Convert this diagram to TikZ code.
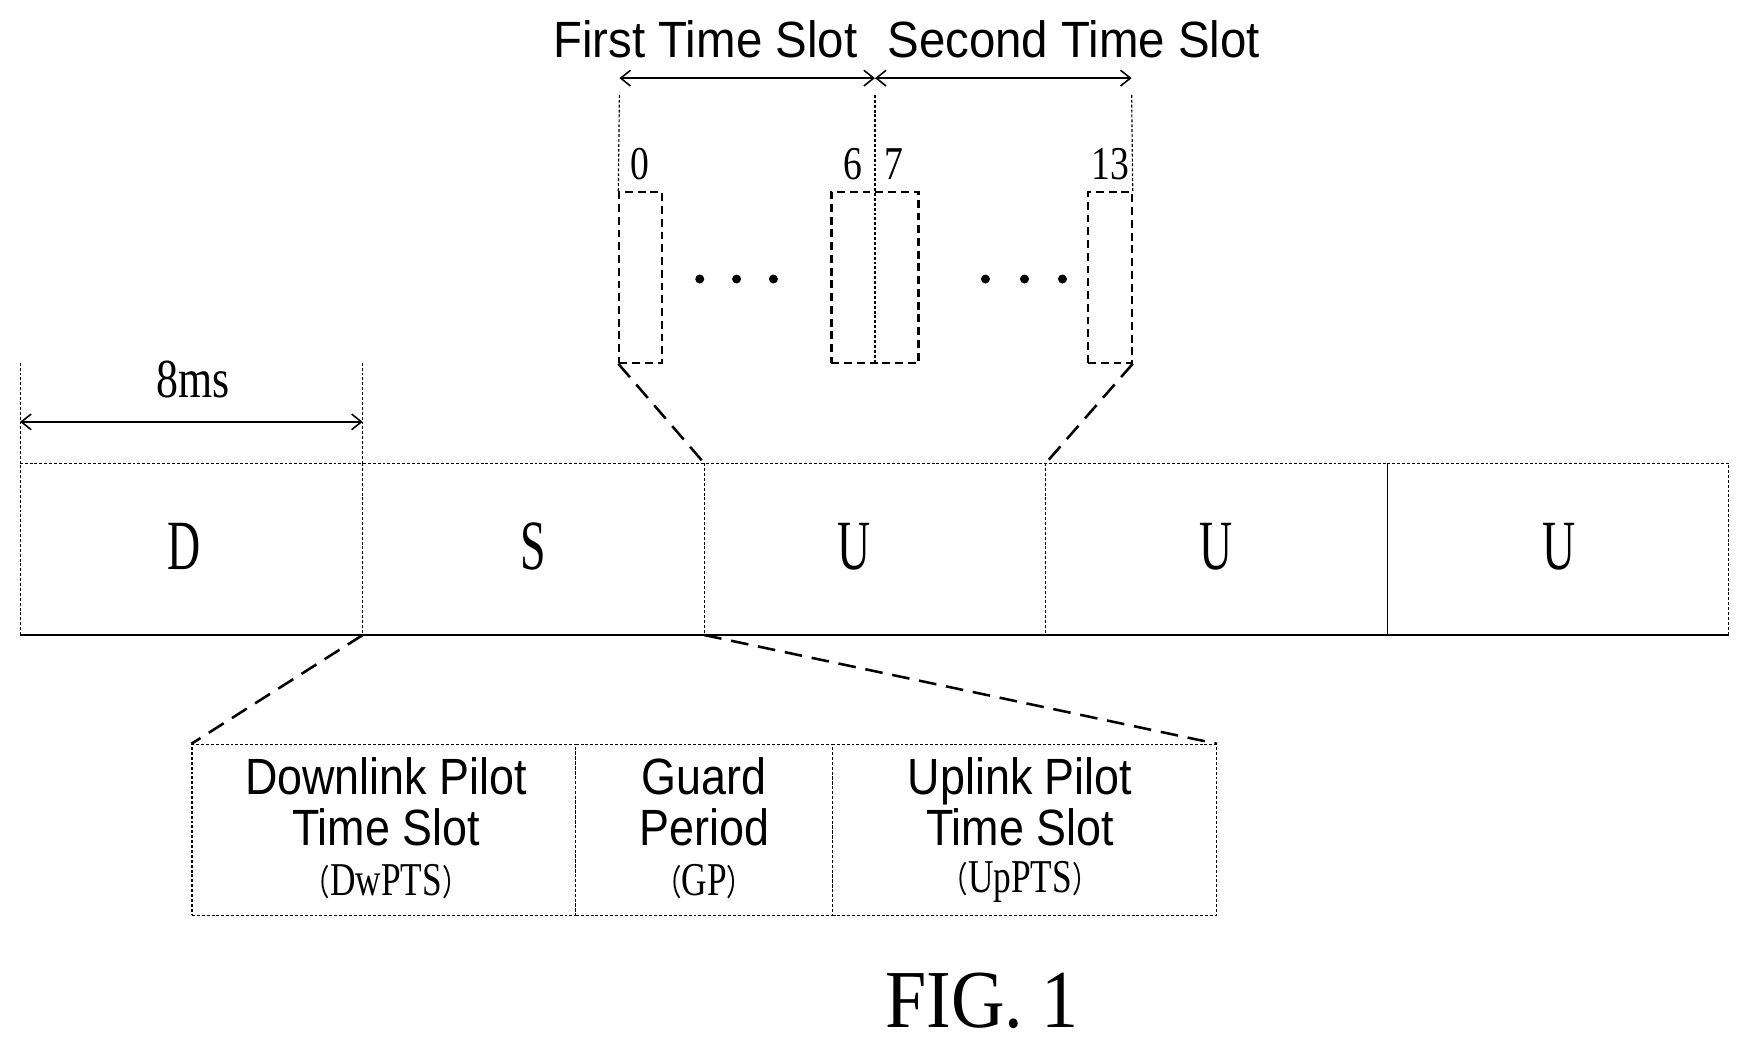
\documentclass[tikz,border=0pt]{standalone}
\usepackage{fontspec}
\setmainfont{Liberation Serif}
\newfontfamily\arialf{Liberation Sans}
\newfontfamily\cjk{Noto Sans CJK SC}
\usetikzlibrary{arrows.meta}
\newcommand{\nar}[2][0.8]{\scalebox{#1}[1]{#2}}
\newcommand{\lp}{{\cjk\fontsize{18}{18}\selectfont （}}
\newcommand{\rp}{{\cjk\fontsize{18}{18}\selectfont ）}}
\begin{document}
\begin{tikzpicture}[x=0.02cm,y=-0.02cm,
  thn/.style={line width=0.6pt},
  dotl/.style={line width=0.6pt,dash pattern=on 1.5pt off 1pt},
  dsh/.style={line width=1.1pt,dash pattern=on 4pt off 2.5pt},
  dashl/.style={line width=1.3pt,dash pattern=on 9pt off 5pt},
  dim/.style={line width=0.8pt,{Straight Barb[length=5pt,width=8pt]}-{Straight Barb[length=5pt,width=8pt]}},
  big/.style={font=\fontsize{36}{36}\selectfont},
  sans/.style={font=\arialf\fontsize{26}{30}\selectfont,align=center},
  num/.style={font=\fontsize{24}{24}\selectfont}]
\useasboundingbox (0,0) rectangle (1560,938);
% main frame
\coordinate (f0t) at (18,415); \coordinate (f0b) at (18,569);
\coordinate (f1t) at (325,415); \coordinate (f1b) at (325,569);
\coordinate (f2t) at (631,415); \coordinate (f2b) at (631,569);
\coordinate (f3t) at (937,415); \coordinate (f3b) at (937,569);
\coordinate (f4t) at (1243,415); \coordinate (f4b) at (1243,569);
\coordinate (f5t) at (1549,415); \coordinate (f5b) at (1549,569);
\draw[dotl] (f0b) -- (f0t) -- (f5t) -- (f5b);
\draw[thn] (f0b) -- (f5b);
\draw[dotl] (f1t) -- (f1b); \draw[dotl] (f2t) -- (f2b); \draw[dotl] (f3t) -- (f3b);
\draw[thn] (f4t) -- (f4b);
\node[big] (D) at (165,490) {\nar[0.65]{D}};
\node[big] (S) at (478,490) {\nar[0.65]{S}};
\node[big] (U1) at (765,490) {\nar[0.65]{U}};
\node[big] (U2) at (1090,490) {\nar[0.65]{U}};
\node[big] (U3) at (1397,490) {\nar[0.65]{U}};
% 8ms
\coordinate (m0) at (18,325); \coordinate (m1) at (325,325);
\draw[dotl] (m0) -- (f0t); \draw[dotl] (m1) -- (f1t);
\coordinate (a0) at (18,378); \coordinate (a1) at (325,378);
\draw[dim] (a0) -- (a1);
\node[num,font=\fontsize{28}{28}\selectfont] (ms) at (173,340) {\nar[0.8]{8ms}};
% top slots
\node[dsh,draw,minimum width=38*0.02cm,minimum height=153*0.02cm,inner sep=0] (s0) at (574,248.5) {};
\node[dsh,draw,minimum width=78*0.02cm,minimum height=153*0.02cm,inner sep=0] (s67) at (784,248.5) {};
\node[dsh,draw,minimum width=39*0.02cm,minimum height=153*0.02cm,inner sep=0] (s13) at (994.5,248.5) {};
\coordinate (v0) at (555,85); \coordinate (v1) at (784,85); \coordinate (v2) at (1014,85);
\draw[dotl] (v0) -- (s0.north west);
\draw[dotl] (v1) -- (s67.south);
\draw[dotl] (v2) -- (s13.north east);
\coordinate (t0) at (555,70); \coordinate (t1) at (784,70); \coordinate (t2) at (1014,70);
\draw[dim] (t0) -- (t1); \draw[dim] (t1) -- (t2);
\node[sans] (fts) at (632,35) {\nar[0.93]{First Time Slot}};
\node[sans] (sts) at (962,35) {\nar[0.93]{Second Time Slot}};
\node[num] (n0) at (573,147) {\nar[0.8]{0}};
\node[num] (n6) at (764,147) {\nar[0.8]{6}};
\node[num] (n7) at (801,147) {\nar[0.8]{7}};
\node[num] (n13) at (995,147) {\nar[0.8]{13}};
\foreach \x in {627,660,693,883,918,952} \fill (\x,250) circle (2.3pt);
\draw[dashl] (s0.south west) -- (f2t);
\draw[dashl] (s13.south east) -- (f3t);
% bottom boxes
\node[dotl,draw,minimum width=344*0.02cm,minimum height=153*0.02cm,inner sep=0] (b1) at (344,743.5) {};
\node[dotl,draw,minimum width=230*0.02cm,minimum height=153*0.02cm,inner sep=0] (b2) at (631,743.5) {};
\node[dotl,draw,minimum width=344*0.02cm,minimum height=153*0.02cm,inner sep=0] (b3) at (918,743.5) {};
\node[sans] (t1a) at (346,718) {\nar[0.88]{Downlink Pilot}\\[-4pt]\nar[0.88]{Time Slot}};
\node[sans] (t2a) at (631,718) {\nar[0.88]{Guard}\\[-4pt]\nar[0.88]{Period}};
\node[sans] (t3a) at (914,718) {\nar[0.88]{Uplink Pilot}\\[-4pt]\nar[0.88]{Time Slot}};
\node[num] (t1b) at (346,790) {\nar[0.75]{\lp DwPTS\rp}};
\node[num] (t2b) at (631,790) {\nar[0.75]{\lp GP\rp}};
\node[num] (t3b) at (914,790) {\nar[0.75]{\lp UpPTS\rp}};
\draw[dashl] (f1b) -- (b1.north west);
\draw[dashl] (f2b) -- (b3.north east);
\node[font=\fontsize{42}{42}\selectfont] (fig) at (880,897) {\nar[0.9]{FIG. 1}};
\end{tikzpicture}
\end{document}
